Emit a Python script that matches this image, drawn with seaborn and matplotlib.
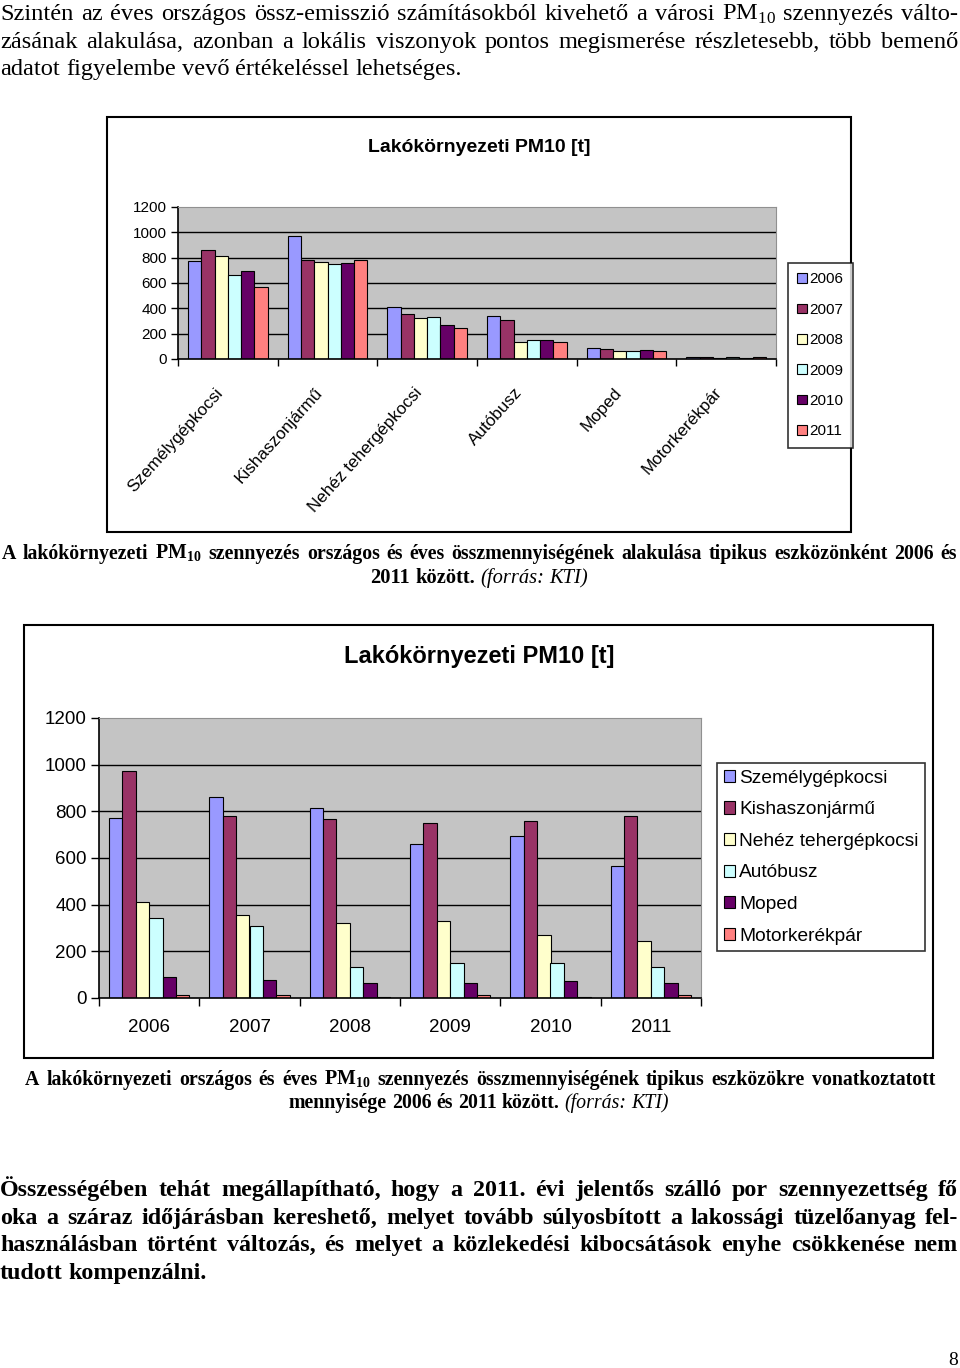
import matplotlib
matplotlib.use('Agg')
import matplotlib.pyplot as plt
from matplotlib.patches import Rectangle, Patch
from matplotlib import transforms
import numpy as np
import pandas as pd
import seaborn as sns

# data (t), read from the page
years = ['2006', '2007', '2008', '2009', '2010', '2011']
categories = ['Személygépkocsi', 'Kishaszonjármű', 'Nehéz tehergépkocsi',
              'Autóbusz', 'Moped', 'Motorkerékpár']
szemely = [770, 860, 815, 660, 693, 565]
kishaszon = [975, 778, 768, 752, 757, 782]
nehez = [412, 354, 322, 329, 271, 244]
autobusz = [342, 310, 135, 148, 148, 135]
moped = [90, 78, 65, 65, 72, 65]
motor = [12, 12, 5, 12, 5, 12]
colors = ['#9999FF', '#993366', '#FFFFCC', '#CCFFFF', '#660066', '#FF8080']
yticks = [0, 200, 400, 600, 800, 1000, 1200]

rows = []
for cat, vals in zip(categories, [szemely, kishaszon, nehez, autobusz, moped, motor]):
    for yr, v in zip(years, vals):
        rows.append({'eszkoz': cat, 'ev': yr, 't': v})
df = pd.DataFrame(rows)

plt.rcParams['font.family'] = ['Liberation Sans', 'DejaVu Sans']
W, H = 960, 1368
fig = plt.figure(figsize=(W / 100, H / 100), dpi=100)
renderer = fig.canvas.get_renderer()


def fx(x):
    return x / W


def fy(y):
    return 1 - y / H


def line(segs, base, x0=0, x1=958, align='justify', size=13.5, weight='normal'):
    # segs: list of (text, extra kwargs); words placed one by one
    objs = []
    for txt, kw in segs:
        for w in txt.split(' '):
            opts = dict(fontsize=size, family='Liberation Serif', fontweight=weight)
            opts.update(kw)
            objs.append(fig.text(fx(x0), fy(base), w, va='baseline', ha='left', **opts))
    widths = [t.get_window_extent(renderer).width for t in objs]
    space = 0.25 * size * 100 / 72
    total = sum(widths) + space * (len(objs) - 1)
    if align == 'justify':
        gap = (x1 - x0 - sum(widths)) / (len(objs) - 1)
        x = x0
    elif align == 'center':
        gap = space
        x = (x0 + x1 - total) / 2
    else:
        gap = space
        x = x0
    for t, w in zip(objs, widths):
        t.set_x(fx(x))
        x += w + gap


PM = r'PM$_{\mathregular{10}}$'
ITAL = {'fontstyle': 'italic', 'fontweight': 'normal'}
BODY, CAP, BOLDP = 17.6, 14.3, 17.3

# body text
line([('Szintén az éves országos össz-emisszió számításokból kivehető a városi ' + PM + ' szennyezés válto-', {})],
     20, size=BODY)
line([('zásának alakulása, azonban a lokális viszonyok pontos megismerése részletesebb, több bemenő', {})],
     48, size=BODY)
line([('adatot figyelembe vevő értékeléssel lehetséges.', {})], 75, align='left', size=BODY)

line([('A lakókörnyezeti ' + PM + ' szennyezés országos és éves összmennyiségének alakulása tipikus eszközönként 2006 és', {})],
     559, x0=2, x1=957, size=CAP, weight='bold')
line([('2011 között.', {}), ('(forrás: KTI)', ITAL)], 583, x0=0, x1=958, align='center', size=CAP + 0.5, weight='bold')

line([('A lakókörnyezeti országos és éves ' + PM + ' szennyezés összmennyiségének tipikus eszközökre vonatkoztatott', {})],
     1085, x0=25, x1=935, size=CAP, weight='bold')
line([('mennyisége 2006 és 2011 között.', {}), ('(forrás: KTI)', ITAL)], 1108, x0=0, x1=958, align='center',
     size=CAP, weight='bold')

line([('Összességében tehát megállapítható, hogy a 2011. évi jelentős szálló por szennyezettség fő', {})], 1196,
     size=BOLDP, weight='bold')
line([('oka a száraz időjárásban kereshető, melyet tovább súlyosbított a lakossági tüzelőanyag fel-', {})], 1224,
     size=BOLDP, weight='bold')
line([('használásban történt változás, és melyet a közlekedési kibocsátások enyhe csökkenése nem', {})], 1251,
     size=BOLDP, weight='bold')
line([('tudott kompenzálni.', {})], 1279, align='left', size=BOLDP, weight='bold')

fig.text(fx(953), fy(1365), '8', family='Liberation Serif', fontsize=14, ha='center', va='baseline')

# chart frames
for (l, t, r, b) in [(107, 117, 851, 532), (24, 625, 933, 1058)]:
    fig.patches.append(Rectangle((fx(l), fy(b)), fx(r - l), (b - t) / H, transform=fig.transFigure,
                                 fill=False, edgecolor='black', lw=1.5))

handles = [Patch(facecolor=c, edgecolor='black', lw=0.8) for c in colors]


def style(ax, fs, ticklen):
    ax.set_facecolor('#C4C4C4')
    ax.set_ylim(0, 1200)
    ax.set_xlim(-0.5, 5.5)
    ax.hlines(yticks[1:-1], -0.5, 5.5, color='black', lw=1, zorder=0.5)
    ax.set_yticks(yticks)
    ax.set_yticklabels([str(v) for v in yticks], fontsize=fs)
    ax.set_xticks(np.arange(-0.5, 6, 1))
    ax.set_xticklabels([])
    ax.tick_params(axis='both', direction='out', length=ticklen, width=1, color='black', pad=3)
    ax.set_xlabel('')
    ax.set_ylabel('')
    for s in ['top', 'right']:
        ax.spines[s].set_color('#909090')
    for s in ['left', 'bottom']:
        ax.spines[s].set_color('black')
        ax.spines[s].set_linewidth(1.2)


# chart 1: by vehicle type, hue = year
ax1 = fig.add_axes([fx(178), fy(359), fx(776 - 178), (359 - 207) / H])
sns.barplot(data=df, x='eszkoz', y='t', hue='ev', order=categories, hue_order=years, palette=colors,
            saturation=1, edgecolor='black', linewidth=0.8, errorbar=None, legend=False, ax=ax1)
style(ax1, 11, 5)
tr1 = transforms.blended_transform_factory(ax1.transData, ax1.transAxes)
for i, c in enumerate(categories):
    ax1.text(i - 0.13, -26 / 152, c, transform=tr1, rotation=48, ha='right', va='top',
             rotation_mode='anchor', fontsize=12.3)
fig.text(fx(479), fy(147), 'Lakókörnyezeti PM10 [t]', ha='center', va='center', fontsize=14, fontweight='bold')
leg1 = fig.legend(handles, years, loc='upper left', bbox_to_anchor=(fx(788), fy(263)), fontsize=11,
                  frameon=True, fancybox=False, edgecolor='black', handlelength=0.6, handleheight=0.6,
                  handletextpad=0.2, labelspacing=1.07, borderpad=0.62, borderaxespad=0)
leg1.get_frame().set_linewidth(1.2)

# chart 2: by year, hue = vehicle type
ax2 = fig.add_axes([fx(99), fy(998), fx(602), 280 / H])
sns.barplot(data=df, x='ev', y='t', hue='eszkoz', order=years, hue_order=categories, palette=colors,
            saturation=1, edgecolor='black', linewidth=0.8, errorbar=None, legend=False, ax=ax2)
style(ax2, 13.5, 6)
tr2 = transforms.blended_transform_factory(ax2.transData, ax2.transAxes)
for i, yr in enumerate(years):
    ax2.text(i, -30 / 280, yr, transform=tr2, ha='center', va='center', fontsize=13.5)
fig.text(fx(479), fy(656), 'Lakókörnyezeti PM10 [t]', ha='center', va='center', fontsize=17, fontweight='bold')
leg2 = fig.legend(handles, categories, loc='upper left', bbox_to_anchor=(fx(717), fy(763)), fontsize=13.8,
                  frameon=True, fancybox=False, edgecolor='black', handlelength=0.6, handleheight=0.6,
                  handletextpad=0.2, labelspacing=0.76, borderpad=0.35, borderaxespad=0)
leg2.get_frame().set_linewidth(1.2)

fig.savefig('out.png', dpi=100)
